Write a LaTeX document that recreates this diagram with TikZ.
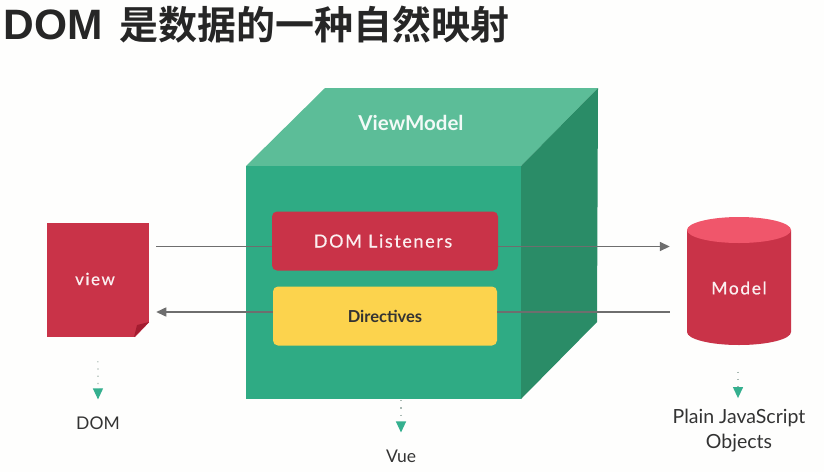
\documentclass[tikz,border=0pt]{standalone}
\usepackage{fontspec}
\setmainfont{Lato}
\newfontfamily\cjkbold[BoldFont=Noto Sans CJK SC Bold]{Noto Sans CJK SC}
\newfontfamily\domfont{Liberation Sans}
\newfontfamily\spaced[LetterSpace=9,FakeBold=0.5]{Lato}
\usetikzlibrary{arrows.meta,calc}
\definecolor{front}{HTML}{2FAB84}
\definecolor{topc}{HTML}{5CBD98}
\definecolor{sidec}{HTML}{2A8C67}
\definecolor{redc}{HTML}{C93348}
\definecolor{redtop}{HTML}{F0566B}
\definecolor{redfold}{HTML}{A31C30}
\definecolor{yell}{HTML}{FCD34D}
\definecolor{linec}{HTML}{6E6E6E}
\definecolor{tipc}{HTML}{35B08F}
\definecolor{dotc}{HTML}{A9B9B3}
\definecolor{inkc}{HTML}{333333}
\definecolor{paper}{HTML}{FEFEFD}
\tikzset{
 x=1pt,y=-1pt,
 conn/.style={draw=linec,line width=1.5pt},
 tipped/.style={conn,-{Triangle[length=10pt,width=9pt,fill=linec]}},
 dotarrow/.style={draw=dotc,line width=1.2pt,dash pattern=on 1.2pt off 6pt,-{Triangle[length=11pt,width=10pt,color=tipc]}},
 box/.style={rounded corners=5pt,minimum width=#1,minimum height=59pt,inner sep=0pt},
 lab/.style={text=inkc,font=\fontsize{17.5}{20}\selectfont,inner sep=0pt},
}
\begin{document}
\begin{tikzpicture}
\useasboundingbox (0,0) rectangle (824,472);
\fill[paper] (0,0) rectangle (824,472);
% title
\node[anchor=west,inner sep=0pt,text=black!85] (title) at (3.5,25) {\fontsize{39}{44}\selectfont\bfseries{\domfont\bfseries\fontsize{42.5}{44}\selectfont DOM}\hspace{17pt}{\cjkbold\bfseries 是数据的一种自然映射}};
% cube
\fill[topc] (246,166) -- (325,88) -- (598,88) -- (521,166) -- cycle;
\fill[sidec] (521,166) -- (598,88) -- (597,322) -- (521,399) -- cycle;
\node[fill=front,minimum width=275pt,minimum height=233pt,inner sep=0pt] (vue) at (383.5,282.5) {};
\node[text=white!92!topc,font=\bfseries\fontsize{20.5}{23}\selectfont,inner sep=0pt] (vm) at (411,123) {ViewModel};
% nodes
\node[fill=redc,minimum width=102.5pt,minimum height=114pt,inner sep=0pt] (view) at (97.8,280) {};
\fill[paper] (134.5,337.8) -- (150.5,321) -- (150.5,337.8) -- cycle;
\fill[redfold] (134,337) -- (149,322) -- (137,325) -- cycle;
\node[text=white!92!redc,font=\spaced\fontsize{17}{19}\selectfont,inner sep=0pt] at (95,279) {view};
% cylinder
\fill[redc] (687,230) -- (687,332) arc[start angle=180,end angle=360,x radius=52pt,y radius=13pt] -- (791,230) -- cycle;
\fill[redtop] (739,230) ellipse[x radius=52pt,y radius=13pt];
\node[minimum width=104pt,minimum height=129pt,inner sep=0pt,text=white!92!redc,font=\spaced\fontsize{17.5}{19}\selectfont] (model) at (739,288) {Model};
% inner boxes
\node[box=226pt,fill=redc,text=white!92!redc,font=\spaced\fontsize{18}{19}\selectfont] (listeners) at (385,241) {\hspace{-4pt}DOM Listeners};
\node[box=224pt,fill=yell,text=inkc,font=\bfseries\fontsize{16.5}{18}\selectfont] (directives) at (385,316) {Directives};
% connectors
\draw[conn,shorten <=7pt] ($(view.east)+(0,-33.5)$) -- ($(listeners.west)+(0,5.5)$);
\draw[tipped,shorten >=17pt] ($(listeners.east)+(0,5.5)$) -- ($(model.west)+(0,-41.5)$);
\draw[conn,shorten <=17pt] ($(model.west)+(0,24)$) -- ($(directives.east)+(0,-4)$);
\draw[tipped,shorten >=7pt] ($(directives.west)+(0,-4)$) -- ($(view.east)+(0,32)$);
% labels
\node[lab] (ldom) at (98,423) {DOM};
\node[lab] (lvue) at (401,456) {Vue};
\node[lab,align=center,font=\fontsize{19.5}{24.5}\selectfont] (lpjs) at (739,430.5) {Plain JavaScript\\Objects};
\draw[dotarrow,shorten <=24pt] (view.south) -- ($(ldom.north)+(0,-17)$);
\draw[dotarrow] ($(vue.south)+(17.5,1)$) -- ($(lvue.north)+(0,-17)$);
\draw[dotarrow,shorten <=19pt] (model.south) ++(-1,0) -- ($(lpjs.north)+(-1,-11)$);
\end{tikzpicture}
\end{document}
